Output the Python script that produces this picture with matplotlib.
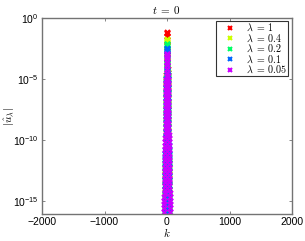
import numpy as np
import matplotlib
matplotlib.use("Agg")
import matplotlib.pyplot as plt
from matplotlib.ticker import FixedLocator, FuncFormatter, NullLocator

# series labels and colours
lambdas = ["1", "0.4", "0.2", "0.1", "0.05"]
colors = [(1, 0, 0), (0.8, 1, 0), (0, 1, 0.4), (0, 0.4, 1), (0.8, 0, 1)]

# log10 |u_hat| for k = 0, 1, 2, ... (spectra are symmetric in k)
logu_1 = [-1.15, -1.25, -1.45, -1.80, -2.25, -2.73, -3.21, -3.69, -4.17, -4.65,
          -5.13, -5.61, -6.09, -6.57, -7.05, -7.53, -8.01, -8.49, -8.97, -9.45,
          -9.93, -10.41, -10.89, -11.37, -11.85, -12.33, -12.81, -13.29, -13.77,
          -14.25, -14.73, -15.21, -15.69]
logu_04 = [-1.70, -1.78, -1.96, -2.26, -2.66, -3.10, -3.54, -3.98, -4.42, -4.86,
           -5.30, -5.74, -6.18, -6.62, -7.06, -7.50, -7.94, -8.38, -8.82, -9.26,
           -9.70, -10.14, -10.58, -11.02, -11.46, -11.90, -12.34, -12.78, -13.22,
           -13.66, -14.10, -14.54, -14.98, -15.42, -15.86]
logu_02 = [-2.10, -2.16, -2.32, -2.58, -2.94, -3.34, -3.74, -4.14, -4.54, -4.94,
           -5.34, -5.74, -6.14, -6.54, -6.94, -7.34, -7.74, -8.14, -8.54, -8.94,
           -9.34, -9.74, -10.14, -10.54, -10.94, -11.34, -11.74, -12.14, -12.54,
           -12.94, -13.34, -13.74, -14.14, -14.54, -14.94, -15.34, -15.74]
logu_01 = [-2.50, -2.55, -2.69, -2.92, -3.24, -3.60, -3.96, -4.32, -4.68, -5.04,
           -5.40, -5.76, -6.12, -6.48, -6.84, -7.20, -7.56, -7.92, -8.28, -8.64,
           -9.00, -9.36, -9.72, -10.08, -10.44, -10.80, -11.16, -11.52, -11.88,
           -12.24, -12.60, -12.96, -13.32, -13.68, -14.04, -14.40, -14.76, -15.12,
           -15.48, -15.84]
logu_005 = [-2.95, -2.99, -3.10, -3.30, -3.57, -3.87, -4.17, -4.47, -4.77, -5.07,
            -5.37, -5.67, -5.97, -6.27, -6.57, -6.87, -7.17, -7.47, -7.77, -8.07,
            -8.37, -8.67, -8.97, -9.27, -9.57, -9.87, -10.17, -10.47, -10.77,
            -11.07, -11.37, -11.67, -11.97, -12.27, -12.57, -12.87, -13.17, -13.47,
            -13.77, -14.07, -14.37, -14.67, -14.97, -15.27, -15.57, -15.87]
series = [logu_1, logu_04, logu_02, logu_01, logu_005]

xticks = [-2000, -1000, 0, 1000, 2000]
yticks = [1e0, 1e-5, 1e-10, 1e-15]

plt.rcParams["font.family"] = ["Liberation Sans", "DejaVu Sans"]
plt.rcParams["mathtext.fontset"] = "cm"

fig = plt.figure(figsize=(3.05, 2.41), dpi=100)
ax = fig.add_axes([42 / 305, 27 / 241, 250 / 305, 196 / 241])

gray = "0.45"
for lam, c, logu in zip(lambdas, colors, series):
    half = np.array(logu)
    k = np.arange(len(half))
    kk = np.concatenate([-k[::-1], k[1:]])
    vv = 10 ** np.concatenate([half[::-1], half[1:]])
    ax.plot(kk, vv, linestyle="none", marker="x", ms=3.6, mew=1.5, color=c,
            label=r"$\lambda\;=\;%s$" % lam)

ax.set_yscale("log")
ax.set_xlim(-2000, 2000)
ax.set_ylim(10 ** -16.07, 1)

ax.xaxis.set_major_locator(FixedLocator(xticks))
ax.yaxis.set_major_locator(FixedLocator(yticks))
ax.yaxis.set_minor_locator(NullLocator())
ax.yaxis.set_major_formatter(FuncFormatter(
    lambda v, p: r"$\mathregular{10^{%d}}$" % round(np.log10(v))))
ax.xaxis.set_major_formatter(FuncFormatter(
    lambda v, p: ("%d" % v).replace("-", "\u2212")))

ax.tick_params(direction="in", length=2.5, width=0.6, colors=gray,
               labelcolor="black", labelsize=7.5, top=True, right=True, pad=2.5)
for s in ax.spines.values():
    s.set_color(gray)
    s.set_linewidth(1.0)

ax.set_title(r"$t\;=\;0$", fontsize=8, pad=3)
ax.set_xlabel(r"$k$", fontsize=8, labelpad=-1)
ax.set_ylabel(r"$|\hat{u}_\lambda|$", fontsize=8, labelpad=-2)

leg = ax.legend(loc="upper right", bbox_to_anchor=(0.984, 0.985), fontsize=7.2,
                frameon=True, fancybox=False, markerscale=0.75, handlelength=2.6,
                handletextpad=0.3, borderpad=0.1, labelspacing=-0.08,
                borderaxespad=0)
leg.get_frame().set_edgecolor("black")
leg.get_frame().set_linewidth(0.8)

fig.savefig("out.png", dpi=100)
